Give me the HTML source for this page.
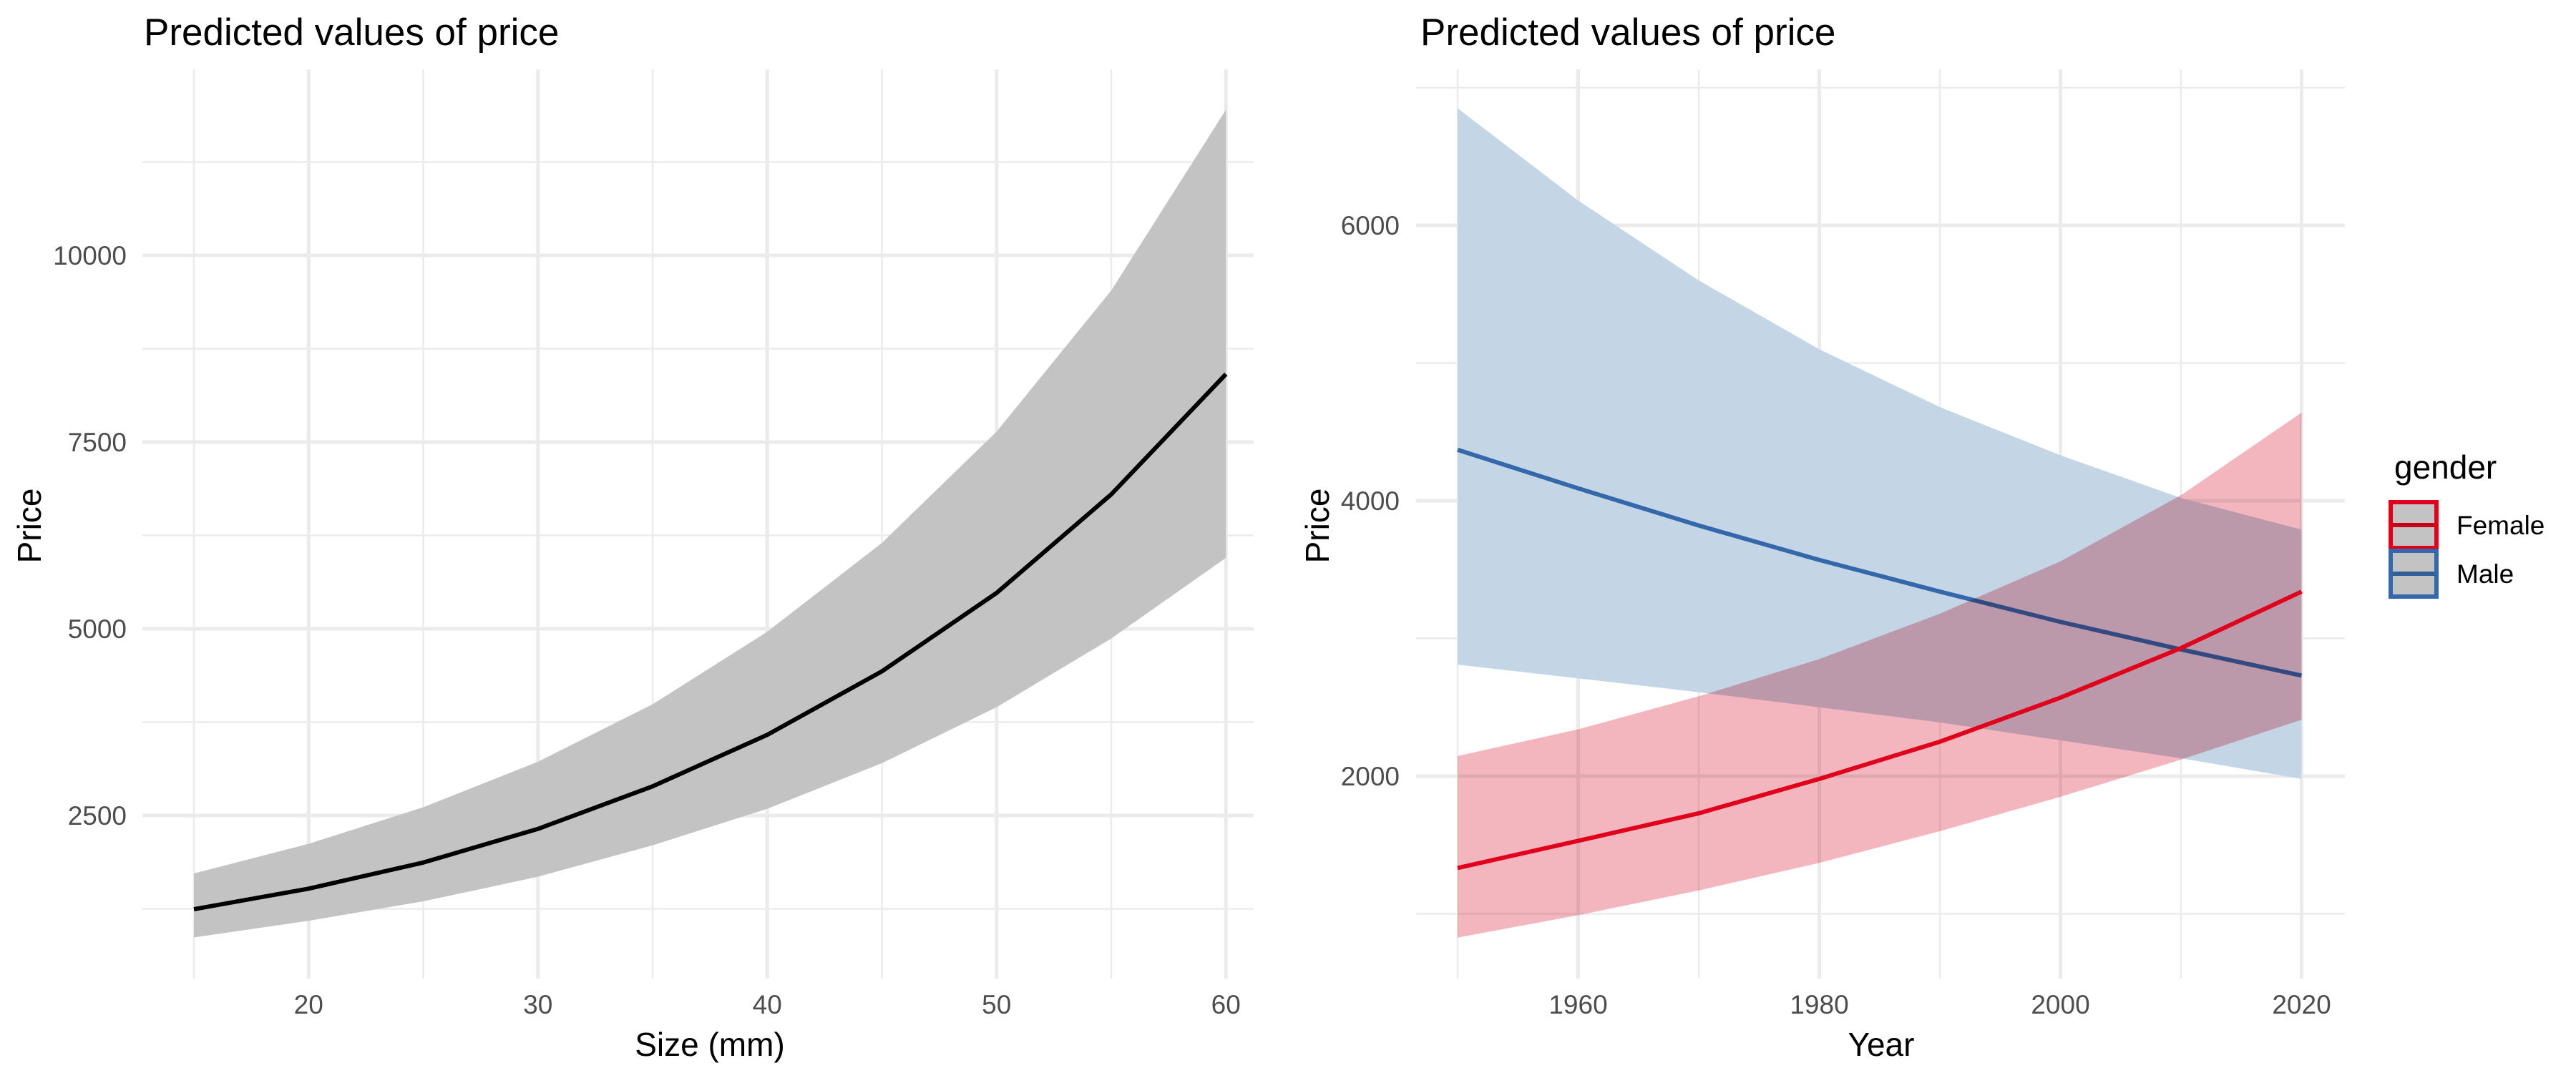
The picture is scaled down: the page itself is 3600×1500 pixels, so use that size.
<!DOCTYPE html>
<html><head><meta charset="utf-8"><style>
html,body{margin:0;padding:0;background:#fff}
svg{display:block;font-family:"Liberation Sans",Arial,sans-serif}
</style></head><body>
<svg id="chart" width="3600" height="1500" viewBox="0 0 3600 1500">
<rect width="3600" height="1500" fill="#fff"/>
<text x="201" y="63" font-size="53" fill="#000">Predicted values of price</text>
<text x="1985" y="63" font-size="53" fill="#000">Predicted values of price</text>
<g id="left"></g>
<g id="right"></g>
<text x="992" y="1476" font-size="46" text-anchor="middle">Size (mm)</text>
<text x="2629" y="1476" font-size="46" text-anchor="middle">Year</text>
<text transform="translate(57,735) rotate(-90)" font-size="46" text-anchor="middle">Price</text>
<text transform="translate(1857,735) rotate(-90)" font-size="46" text-anchor="middle">Price</text>
<g>
<text x="3346" y="669" font-size="46">gender</text>
<g>
<rect x="3341" y="702" width="64" height="64" fill="#C3C3C3" stroke="#E0001B" stroke-width="6"/>
<line x1="3344" y1="734" x2="3402" y2="734" stroke="#C8001B" stroke-width="6"/>
<text x="3433" y="747" font-size="37">Female</text>
</g>
<g>
<rect x="3341" y="770" width="64" height="64" fill="#C3C3C3" stroke="#3468AA" stroke-width="6"/>
<line x1="3344" y1="802" x2="3402" y2="802" stroke="#2F5D98" stroke-width="6"/>
<text x="3433" y="815" font-size="37">Male</text>
</g>
</g>
</svg>
<script>
// Left chart data
const sizes = [15,20,25,30,35,40,45,50,55,60];
const sizeFit = [1245,1520,1870,2320,2890,3580,4430,5480,6800,8410];
const sizeHigh = [1724,2120,2610,3220,3990,4960,6150,7640,9530,11950];
const sizeLow = [867,1090,1350,1680,2100,2590,3200,3950,4870,5950];
const leftXTicks = [20,30,40,50,60];
const leftXMinor = [15,25,35,45,55];
const leftYTicks = [2500,5000,7500,10000];
const leftYMinor = [1250,3750,6250,8750,11250];
// Right chart data
const years = [1950,1960,1970,1980,1990,2000,2010,2020];
const femaleFit = [1333,1530,1730,1980,2250,2570,2930,3340];
const femaleHigh = [2146,2340,2580,2850,3180,3560,4040,4640];
const femaleLow = [828,990,1170,1370,1600,1850,2120,2410];
const maleFit = [4370,4090,3820,3570,3340,3120,2920,2730];
const maleHigh = [6850,6180,5600,5100,4680,4330,4020,3790];
const maleLow = [2810,2710,2610,2500,2390,2260,2130,1980];
const rightXTicks = [1960,1980,2000,2020];
const rightXMinor = [1950,1970,1990,2010];
const rightYTicks = [2000,4000,6000];
const rightYMinor = [1000,3000,5000,7000];

const NS = "http://www.w3.org/2000/svg";
function mk(parent, tag, attrs){ const e=document.createElementNS(NS,tag); for(const k in attrs) e.setAttribute(k,attrs[k]); parent.appendChild(e); return e; }

function drawPanel(g, P, xs, ys){
  const sx = v => P.x0 + (v - P.xv0) * P.xk;
  const sy = v => P.y0 - (v - P.yv0) * P.yk;
  xs.minor.forEach(v=>{ const l=mk(g,'line',{x1:sx(v),x2:sx(v),y1:P.top,y2:P.bottom,stroke:'#EBEBEB','stroke-width':2.5});
    
     });
  ys.minor.forEach(v=>{ const l=mk(g,'line',{x1:P.left,x2:P.right,y1:sy(v),y2:sy(v),stroke:'#EBEBEB','stroke-width':2.5});
    
     });
  xs.major.forEach(v=>{ const l=mk(g,'line',{x1:sx(v),x2:sx(v),y1:P.top,y2:P.bottom,stroke:'#EBEBEB','stroke-width':5});
    
    
    const t=mk(g,'text',{x:sx(v),y:1417,'font-size':37,fill:'#4D4D4D','text-anchor':'middle'}); t.textContent=v;
    
     });
  ys.major.forEach(v=>{ const l=mk(g,'line',{x1:P.left,x2:P.right,y1:sy(v),y2:sy(v),stroke:'#EBEBEB','stroke-width':5});
    
    
    const t=mk(g,'text',{x:P.labelX,y:sy(v)+13,'font-size':37,fill:'#4D4D4D','text-anchor':'end'}); t.textContent=v;
    
     });
  return {sx, sy};
}
function ribbon(g, s, xv, lo, hi, fill, name, blend){
  let d='M'+xv.map((x,i)=>s.sx(x)+','+s.sy(hi[i])).join('L');
  for(let i=xv.length-1;i>=0;i--) d+='L'+s.sx(xv[i])+','+s.sy(lo[i]);
  const p=mk(g,'path',{d:d+'Z',fill:fill});
  if(blend) p.setAttribute('style','mix-blend-mode:multiply');
  
  
}
function line(g, s, xv, yv, color, name){
  const p=mk(g,'polyline',{points:xv.map((x,i)=>s.sx(x)+','+s.sy(yv[i])).join(' '),fill:'none',stroke:color,'stroke-width':6,'stroke-linejoin':'round'});
  
  
}

const L = document.getElementById('left');
const sL = drawPanel(L, {x0:271,xv0:15,xk:32.05,y0:1140,yv0:2500,yk:261/2500,top:97,bottom:1368,left:199,right:1752,labelX:177},
  {major:leftXTicks,minor:leftXMinor},{major:leftYTicks,minor:leftYMinor});
ribbon(L, sL, sizes, sizeLow, sizeHigh, '#C3C3C3', 'confidence-band', false);
line(L, sL, sizes, sizeFit, '#000', 'predicted-price-line');

const R = document.getElementById('right');
const sR = drawPanel(R, {x0:2037,xv0:1950,xk:16.85,y0:1085,yv0:2000,yk:192.5/1000,top:97,bottom:1368,left:1979,right:3277,labelX:1956},
  {major:rightXTicks,minor:rightXMinor},{major:rightYTicks,minor:rightYMinor});
ribbon(R, sR, years, maleLow, maleHigh, '#C4D6E6', 'male-confidence-band', false);
line(R, sR, years, maleFit, '#3468AA', 'male-line');
ribbon(R, sR, years, femaleLow, femaleHigh, '#F4B6BE', 'female-confidence-band', true);
line(R, sR, years, femaleFit, '#E0001B', 'female-line');
</script>
</body></html>
